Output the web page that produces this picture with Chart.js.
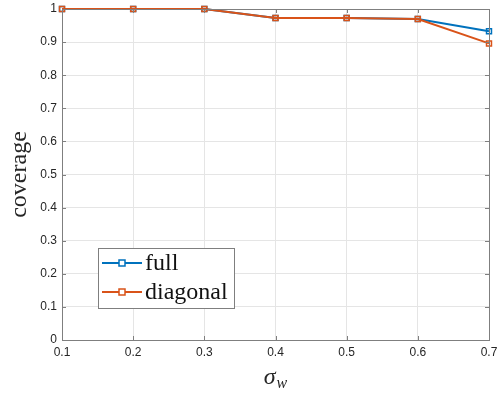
<!DOCTYPE html>
<html>
<head>
<meta charset="utf-8">
<script src="https://cdn.jsdelivr.net/npm/chart.js@4"></script>
<style>
    html, body { margin: 0; padding: 0; background: #fff; }
    #wrap { width: 500px; height: 394px; }
</style>
</head>
<body>
<div id="wrap"><canvas id="chart" width="500" height="394"></canvas></div>
<script>
const sigmaW = [0.1, 0.2, 0.3, 0.4, 0.5, 0.6, 0.7];
const fullCoverage = [1, 1, 1, 0.973, 0.973, 0.970, 0.933];
const diagCoverage = [1, 1, 1, 0.973, 0.973, 0.970, 0.896];
const seriesNames = ['full', 'diagonal'];
const seriesColors = ['#0072BD', '#D95319'];

const axisColor = '#7f7f7f';
const tickFont = { family: 'Liberation Sans, Arial, sans-serif', size: 12 };

// frame, inward ticks, axis titles and legend in MATLAB style
const matlabDecor = {
    id: 'matlabDecor',
    afterDatasetsDraw(chart) {
        const { ctx, chartArea: a, scales } = chart;
        ctx.save();
        ctx.strokeStyle = axisColor;
        ctx.lineWidth = 1;
        ctx.strokeRect(a.left + 0.5, a.top + 0.5, a.right - a.left, a.bottom - a.top);

        // inward ticks
        ctx.beginPath();
        scales.x.ticks.forEach(t => {
            const x = Math.round(scales.x.getPixelForValue(t.value)) + 0.5;
            ctx.moveTo(x, a.bottom); ctx.lineTo(x, a.bottom - 4);
            ctx.moveTo(x, a.top); ctx.lineTo(x, a.top + 4);
        });
        scales.y.ticks.forEach(t => {
            const y = Math.round(scales.y.getPixelForValue(t.value)) + 0.5;
            ctx.moveTo(a.left, y); ctx.lineTo(a.left + 4, y);
            ctx.moveTo(a.right, y); ctx.lineTo(a.right - 4, y);
        });
        ctx.stroke();

        // y title
        ctx.fillStyle = '#262626';
        ctx.font = '24px "Liberation Serif", serif';
        ctx.textAlign = 'center';
        ctx.textBaseline = 'middle';
        ctx.translate(20, (a.top + a.bottom) / 2);
        ctx.rotate(-Math.PI / 2);
        ctx.fillText('coverage', 0, 0);
        ctx.setTransform(1, 0, 0, 1, 0, 0);

        // x title sigma_w
        const cx = (a.left + a.right) / 2;
        ctx.textBaseline = 'alphabetic';
        ctx.textAlign = 'left';
        ctx.font = 'italic 24px "Liberation Serif", serif';
        const sw = ctx.measureText('σ').width;
        ctx.font = 'italic 16px "Liberation Serif", serif';
        const ww = ctx.measureText('w').width;
        const x0 = cx - (sw + ww + 1) / 2;
        ctx.font = 'italic 24px "Liberation Serif", serif';
        ctx.fillText('σ', x0, 384);
        ctx.font = 'italic 16px "Liberation Serif", serif';
        ctx.fillText('w', x0 + sw + 1, 388);

        // legend box
        const lx = 98, ly = 248, lw = 136, lh = 60;
        ctx.fillStyle = '#fff';
        ctx.fillRect(lx, ly, lw, lh);
        ctx.strokeStyle = '#7f7f7f';
        ctx.lineWidth = 1;
        ctx.strokeRect(lx + 0.5, ly + 0.5, lw, lh);
        ctx.font = '24px "Liberation Serif", serif';
        ctx.textBaseline = 'middle';
        seriesNames.forEach((name, i) => {
            const y = ly + 15 + i * 29;
            ctx.strokeStyle = seriesColors[i];
            ctx.lineWidth = 2;
            ctx.beginPath();
            ctx.moveTo(lx + 4, y); ctx.lineTo(lx + 44, y);
            ctx.stroke();
            ctx.lineWidth = 1.5;
            ctx.fillStyle = '#fff';
            ctx.fillRect(lx + 21, y - 3, 6, 6);
            ctx.strokeRect(lx + 21, y - 3, 6, 6);
            ctx.fillStyle = '#111';
            ctx.fillText(name, lx + 47, y + 1);
        });
        ctx.restore();
    }
};

const makeSet = (label, data, color, order) => ({
    label,
    order,
    data: sigmaW.map((x, i) => ({ x, y: data[i] })),
    borderColor: color,
    backgroundColor: 'rgba(255,255,255,0)',
    borderWidth: 2,
    pointStyle: 'rect',
    pointRadius: 3.5,
    pointBorderWidth: 1.5,
    pointBackgroundColor: 'rgba(255,255,255,0)',
    pointBorderColor: color,
    tension: 0,
    clip: false,
});

new Chart(document.getElementById('chart'), {
    type: 'line',
    data: {
        datasets: [
            makeSet(seriesNames[0], fullCoverage, seriesColors[0], 1),
            makeSet(seriesNames[1], diagCoverage, seriesColors[1], 0),
        ],
    },
    options: {
        responsive: false,
        animation: false,
        devicePixelRatio: 1,
        layout: { padding: { left: 0, right: 11, top: 9, bottom: 0 } },
        plugins: { legend: { display: false }, tooltip: { enabled: false } },
        scales: {
            x: {
                type: 'linear',
                min: 0.1, max: 0.7,
                grid: { color: '#e5e5e5', drawTicks: false },
                border: { display: false },
                ticks: {
                    stepSize: 0.1, padding: 5, color: '#262626', font: tickFont,
                    callback: v => (+v.toFixed(1)).toString(),
                },
                afterFit: s => { s.height = 54; s.paddingLeft = 0; s.paddingRight = 0; },
            },
            y: {
                min: 0, max: 1,
                grid: { color: '#e5e5e5', drawTicks: false },
                border: { display: false },
                ticks: {
                    stepSize: 0.1, padding: 5, color: '#262626', font: tickFont,
                    callback: v => (+v.toFixed(1)).toString(),
                },
                afterFit: s => { s.width = 62; s.paddingTop = 0; s.paddingBottom = 0; },
            },
        },
    },
    plugins: [matlabDecor],
});
</script>
</body>
</html>
